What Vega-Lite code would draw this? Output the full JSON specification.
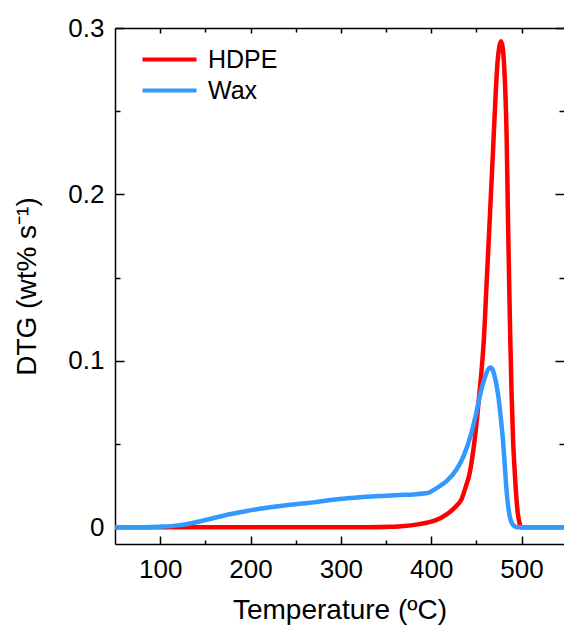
{
  "$schema": "https://vega.github.io/schema/vega-lite/v6.json",
  "width": 449,
  "height": 516,
  "autosize": {"type": "none"},
  "padding": {"left": 115, "top": 28, "right": 0, "bottom": 84},
  "background": "white",
  "config": {
    "view": {"stroke": null},
    "font": "Liberation Sans",
    "axis": {
      "labelFont": "Liberation Sans",
      "titleFont": "Liberation Sans",
      "labelFontSize": 26,
      "titleFontSize": 28,
      "titleFontWeight": "normal",
      "labelColor": "black",
      "titleColor": "black",
      "domainColor": "black",
      "domainWidth": 1.5,
      "tickColor": "black",
      "tickWidth": 1.5,
      "grid": false
    },
    "legend": {
      "labelFont": "Liberation Sans",
      "labelFontSize": 25,
      "labelColor": "black"
    }
  },
  "data": {
    "values": [
      {"T": 50, "v": 0, "s": "HDPE"},
      {"T": 150, "v": 0, "s": "HDPE"},
      {"T": 250, "v": 0, "s": "HDPE"},
      {"T": 330, "v": 0, "s": "HDPE"},
      {"T": 355, "v": 0.0003, "s": "HDPE"},
      {"T": 370, "v": 0.0008, "s": "HDPE"},
      {"T": 385, "v": 0.0018, "s": "HDPE"},
      {"T": 395, "v": 0.0028, "s": "HDPE"},
      {"T": 402, "v": 0.0038, "s": "HDPE"},
      {"T": 410, "v": 0.0055, "s": "HDPE"},
      {"T": 417, "v": 0.0078, "s": "HDPE"},
      {"T": 422, "v": 0.0098, "s": "HDPE"},
      {"T": 428, "v": 0.013, "s": "HDPE"},
      {"T": 433.5, "v": 0.0168, "s": "HDPE"},
      {"T": 438, "v": 0.024, "s": "HDPE"},
      {"T": 442.7, "v": 0.0328, "s": "HDPE"},
      {"T": 445.5, "v": 0.042, "s": "HDPE"},
      {"T": 448.2, "v": 0.053, "s": "HDPE"},
      {"T": 451, "v": 0.067, "s": "HDPE"},
      {"T": 453.8, "v": 0.083, "s": "HDPE"},
      {"T": 456, "v": 0.096, "s": "HDPE"},
      {"T": 458.2, "v": 0.112, "s": "HDPE"},
      {"T": 461.2, "v": 0.145, "s": "HDPE"},
      {"T": 464.8, "v": 0.185, "s": "HDPE"},
      {"T": 468.5, "v": 0.227, "s": "HDPE"},
      {"T": 471.5, "v": 0.262, "s": "HDPE"},
      {"T": 473.5, "v": 0.28, "s": "HDPE"},
      {"T": 475.5, "v": 0.289, "s": "HDPE"},
      {"T": 477.3, "v": 0.292, "s": "HDPE"},
      {"T": 479.2, "v": 0.288, "s": "HDPE"},
      {"T": 480.8, "v": 0.277, "s": "HDPE"},
      {"T": 482.2, "v": 0.26, "s": "HDPE"},
      {"T": 483.5, "v": 0.235, "s": "HDPE"},
      {"T": 485, "v": 0.185, "s": "HDPE"},
      {"T": 486.3, "v": 0.147, "s": "HDPE"},
      {"T": 487.7, "v": 0.109, "s": "HDPE"},
      {"T": 489, "v": 0.08, "s": "HDPE"},
      {"T": 490.6, "v": 0.053, "s": "HDPE"},
      {"T": 492.5, "v": 0.033, "s": "HDPE"},
      {"T": 494.4, "v": 0.0168, "s": "HDPE"},
      {"T": 496, "v": 0.008, "s": "HDPE"},
      {"T": 498, "v": 0.002, "s": "HDPE"},
      {"T": 500, "v": 0, "s": "HDPE"},
      {"T": 547, "v": 0, "s": "HDPE"},
      {"T": 50, "v": 0, "s": "Wax"},
      {"T": 80, "v": 0.0001, "s": "Wax"},
      {"T": 100, "v": 0.0004, "s": "Wax"},
      {"T": 120, "v": 0.0012, "s": "Wax"},
      {"T": 137, "v": 0.0028, "s": "Wax"},
      {"T": 155, "v": 0.005, "s": "Wax"},
      {"T": 173, "v": 0.0074, "s": "Wax"},
      {"T": 190, "v": 0.0092, "s": "Wax"},
      {"T": 210, "v": 0.0112, "s": "Wax"},
      {"T": 235, "v": 0.013, "s": "Wax"},
      {"T": 255, "v": 0.0142, "s": "Wax"},
      {"T": 270, "v": 0.015, "s": "Wax"},
      {"T": 291, "v": 0.0166, "s": "Wax"},
      {"T": 310, "v": 0.0176, "s": "Wax"},
      {"T": 328, "v": 0.0184, "s": "Wax"},
      {"T": 350, "v": 0.019, "s": "Wax"},
      {"T": 365, "v": 0.0194, "s": "Wax"},
      {"T": 380, "v": 0.0198, "s": "Wax"},
      {"T": 397, "v": 0.0208, "s": "Wax"},
      {"T": 402, "v": 0.0222, "s": "Wax"},
      {"T": 410, "v": 0.025, "s": "Wax"},
      {"T": 417, "v": 0.0278, "s": "Wax"},
      {"T": 428, "v": 0.0348, "s": "Wax"},
      {"T": 436, "v": 0.043, "s": "Wax"},
      {"T": 444.6, "v": 0.0569, "s": "Wax"},
      {"T": 450, "v": 0.069, "s": "Wax"},
      {"T": 455.6, "v": 0.083, "s": "Wax"},
      {"T": 460, "v": 0.091, "s": "Wax"},
      {"T": 463, "v": 0.095, "s": "Wax"},
      {"T": 465.6, "v": 0.096, "s": "Wax"},
      {"T": 468.5, "v": 0.094, "s": "Wax"},
      {"T": 471, "v": 0.089, "s": "Wax"},
      {"T": 474, "v": 0.08, "s": "Wax"},
      {"T": 477, "v": 0.066, "s": "Wax"},
      {"T": 479.5, "v": 0.052, "s": "Wax"},
      {"T": 481.5, "v": 0.037, "s": "Wax"},
      {"T": 483.3, "v": 0.0228, "s": "Wax"},
      {"T": 485, "v": 0.0135, "s": "Wax"},
      {"T": 487, "v": 0.0065, "s": "Wax"},
      {"T": 489, "v": 0.0028, "s": "Wax"},
      {"T": 492.5, "v": 0.0006, "s": "Wax"},
      {"T": 495, "v": 0, "s": "Wax"},
      {"T": 547, "v": 0, "s": "Wax"}
    ]
  },
  "layer": [
    {
      "mark": {"type": "line", "strokeWidth": 4.5, "strokeOpacity": 0},
      "encoding": {
        "x": {
          "field": "T", "type": "quantitative",
          "scale": {"domain": [50, 547], "nice": false, "zero": false},
          "axis": {
            "orient": "top", "title": null, "labels": false,
            "values": [100, 150, 200, 250, 300, 350, 400, 450, 500],
            "tickSize": {"condition": {"test": "datum.value % 100 == 0", "value": -5}, "value": -4}
          }
        },
        "y": {
          "field": "v", "type": "quantitative",
          "scale": {"domain": [-0.01, 0.3], "nice": false, "zero": false},
          "axis": {
            "orient": "right", "title": null, "labels": false, "domain": false,
            "values": [0, 0.05, 0.1, 0.15, 0.2, 0.25, 0.3],
            "tickSize": {"condition": {"test": "abs(datum.value*10 - round(datum.value*10)) < 0.001", "value": -9}, "value": -5}
          }
        },
        "detail": {"field": "s"}
      }
    },
    {
      "mark": {"type": "line", "strokeWidth": 4.5, "interpolate": "monotone"},
      "encoding": {
        "x": {
          "field": "T", "type": "quantitative",
          "scale": {"domain": [50, 547], "nice": false, "zero": false},
          "axis": {
            "orient": "bottom", "title": "Temperature (ºC)",
            "values": [100, 150, 200, 250, 300, 350, 400, 450, 500],
            "labelExpr": "datum.value % 100 == 0 ? datum.label : ''",
            "tickSize": {"condition": {"test": "datum.value % 100 == 0", "value": -8}, "value": -4},
            "labelPadding": 20,
            "titlePadding": 14
          }
        },
        "y": {
          "field": "v", "type": "quantitative",
          "scale": {"domain": [-0.01, 0.3], "nice": false, "zero": false},
          "axis": {
            "orient": "left", "title": "DTG (wt% s⁻¹)",
            "values": [0, 0.05, 0.1, 0.15, 0.2, 0.25, 0.3],
            "labelExpr": "abs(datum.value*10 - round(datum.value*10)) < 0.001 ? (datum.value == 0 ? '0' : format(datum.value, '.1f')) : ''",
            "tickSize": {"condition": {"test": "abs(datum.value*10 - round(datum.value*10)) < 0.001", "value": -9}, "value": -5},
            "labelPadding": 20,
            "titlePadding": 26
          }
        },
        "color": {
          "field": "s", "type": "nominal",
          "scale": {"domain": ["HDPE", "Wax"], "range": ["#FF0000", "#3399FF"]},
          "legend": {
            "title": null,
            "orient": "none",
            "legendX": 42,
            "legendY": 19,
            "padding": 0,
            "symbolType": "M-3,0H3",
            "symbolSize": 324,
            "symbolStrokeWidth": 4,
            "labelOffset": 26,
            "rowPadding": 5
          }
        }
      }
    }
  ]
}
